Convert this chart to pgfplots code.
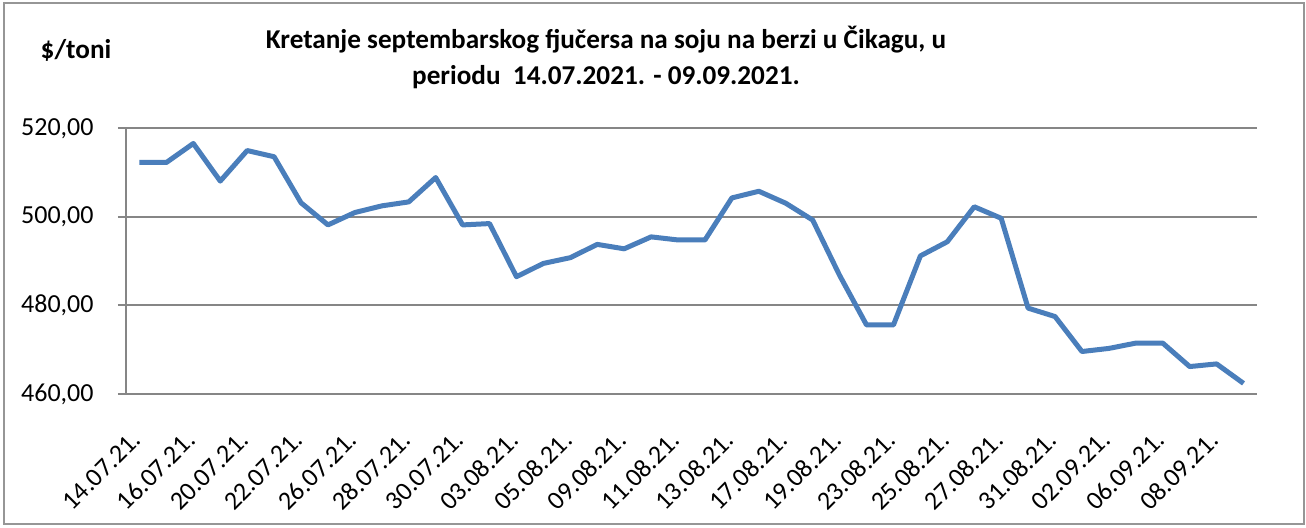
\documentclass[border=0pt]{standalone}
\usepackage{fontspec}
\setmainfont{Carlito}
\usepackage{pgfplots}
\pgfplotsset{compat=1.18}
\definecolor{lineblue}{RGB}{74,126,187}
\definecolor{gridgray}{RGB}{134,134,134}
\definecolor{framegray}{RGB}{150,150,150}

\pgfplotstableread{
idx value
0 512.3
1 512.3
2 516.6
3 508.1
4 515.0
5 513.6
6 503.2
7 498.2
8 501.0
9 502.5
10 503.4
11 508.9
12 498.2
13 498.5
14 486.5
15 489.5
16 490.8
17 493.8
18 492.8
19 495.5
20 494.8
21 494.8
22 504.3
23 505.8
24 503.1
25 499.3
26 486.8
27 475.6
28 475.6
29 491.2
30 494.4
31 502.3
32 499.7
33 479.4
34 477.5
35 469.6
36 470.3
37 471.5
38 471.5
39 466.2
40 466.8
41 462.4
}\soja

\begin{document}
\begin{tikzpicture}
\useasboundingbox (-63pt,-66.5pt) rectangle (590pt,197pt);
\draw[framegray, line width=1pt] (-61pt,-65pt) rectangle (589pt,195.5pt);
% naslov
\node[anchor=base, font=\fontsize{13.6}{16}\selectfont\bfseries] at (240pt,173pt)
  {Kretanje septembarskog fjučersa na soju na berzi u Čikagu, u};
\node[anchor=base, font=\fontsize{13.6}{16}\selectfont\bfseries] at (240pt,155pt)
  {periodu\ \ 14.07.2021. - 09.09.2021.};
\node[anchor=base, font=\fontsize{13.6}{16}\selectfont\bfseries] at (-25pt,168pt) {\$/toni};
\begin{axis}[
  at={(0pt,0pt)}, anchor=south west,
  scale only axis,
  width=565.5pt, height=132.8pt,
  xmin=-0.5, xmax=41.5,
  ymin=460, ymax=520,
  ytick={460,480,500,520},
  xtick={0,2,...,40},
  xticklabels={14.07.21.,16.07.21.,20.07.21.,22.07.21.,26.07.21.,28.07.21.,30.07.21.,03.08.21.,05.08.21.,09.08.21.,11.08.21.,13.08.21.,17.08.21.,19.08.21.,23.08.21.,25.08.21.,27.08.21.,31.08.21.,02.09.21.,06.09.21.,08.09.21.},
  axis x line=bottom, axis y line=left,
  axis line style={gridgray, line width=1pt, -},
  x axis line style={draw=none},
  ymajorgrids,
  major grid style={gridgray, line width=1pt},
  ytick style={gridgray, line width=1pt},
  tick align=outside,
  major tick length=4pt,
  tick pos=left,
  xtick style={draw=none},
  yticklabel style={font=\fontsize{13}{15}\selectfont, xshift=-8.7pt},
  xticklabel style={font=\fontsize{13}{15}\selectfont, xshift=-4.5pt, yshift=-8.8pt, rotate=45, anchor=north east},
  /pgf/number format/.cd, use comma, fixed, fixed zerofill, precision=2, 1000 sep={}, assume math mode=true,
]
\addplot[lineblue, line width=2.5pt, line join=round] table[x=idx, y=value] {\soja};
\end{axis}
\end{tikzpicture}
\end{document}
